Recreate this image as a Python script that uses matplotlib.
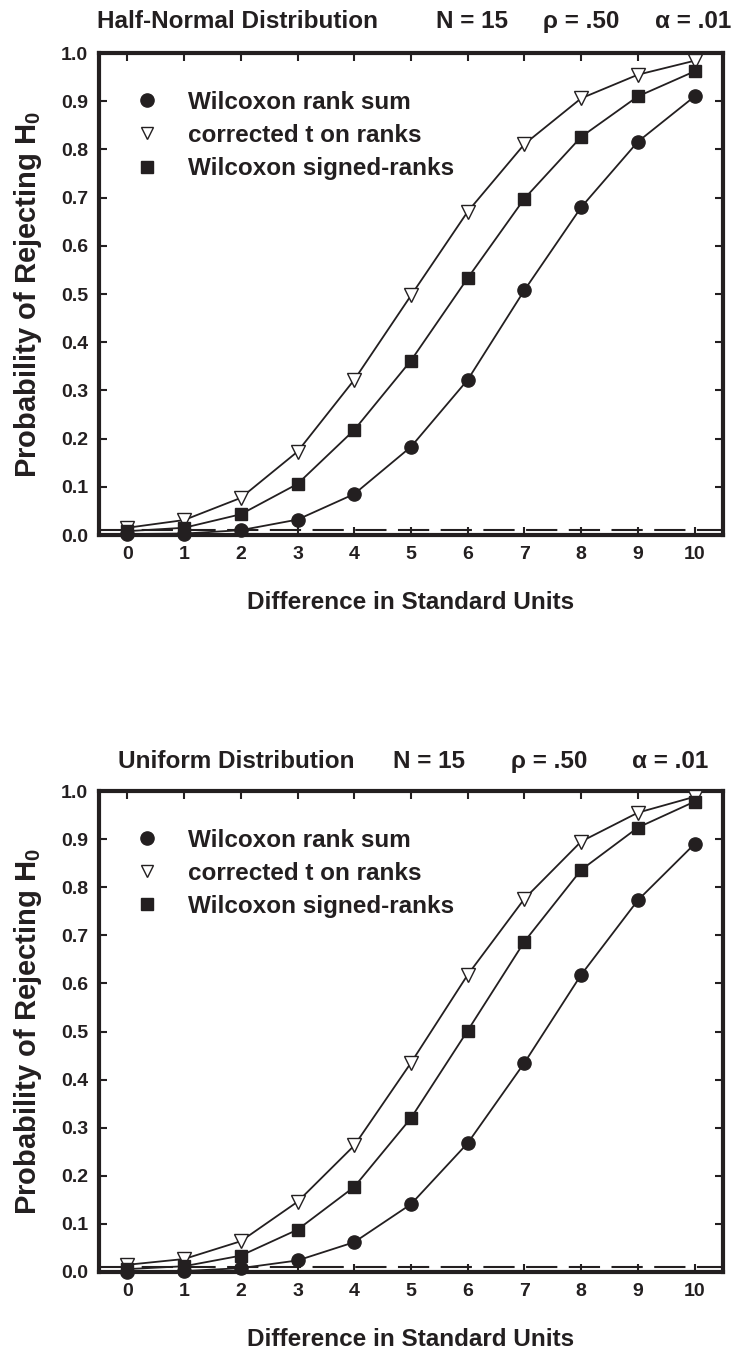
import matplotlib
matplotlib.use("Agg")
import matplotlib.pyplot as plt
from matplotlib.lines import Line2D

INK = "#231f20"

plt.rcParams.update({
    "font.family": ["Liberation Sans", "DejaVu Sans"],
    "font.weight": "bold",
    "mathtext.fontset": "custom",
    "mathtext.rm": "Liberation Sans:bold",
    "mathtext.bf": "Liberation Sans:bold",
    "text.color": INK,
})

# diferença em unidades-padrão
diff = list(range(11))

# Half-Normal
hn_rank_sum = [0.002, 0.003, 0.010, 0.032, 0.085, 0.183, 0.322, 0.508, 0.680, 0.816, 0.910]
hn_t_ranks = [0.015, 0.031, 0.077, 0.173, 0.322, 0.497, 0.671, 0.811, 0.906, 0.955, 0.984]
hn_signed = [0.008, 0.015, 0.043, 0.106, 0.218, 0.362, 0.533, 0.698, 0.826, 0.910, 0.962]

# Uniform
un_rank_sum = [0.001, 0.002, 0.008, 0.024, 0.062, 0.141, 0.268, 0.435, 0.618, 0.773, 0.890]
un_t_ranks = [0.015, 0.027, 0.064, 0.146, 0.263, 0.435, 0.618, 0.776, 0.895, 0.955, 0.988]
un_signed = [0.006, 0.012, 0.034, 0.088, 0.177, 0.320, 0.502, 0.687, 0.836, 0.924, 0.978]

alpha = 0.01
x_ticks = list(range(11))
y_ticks = [i / 10 for i in range(11)]

W, H = 734, 1353
fig = plt.figure(figsize=(W / 100, H / 100), dpi=100)
fig.patch.set_facecolor("white")

ax1 = fig.add_axes([99 / W, 1 - 535 / H, 624 / W, 482 / H])
ax2 = fig.add_axes([99 / W, 1 - 1272 / H, 624 / W, 481 / H])


def painel(ax, rank_sum, t_ranks, signed):
    ax.axhline(alpha, color=INK, lw=1.5, dashes=(15, 5.5), zorder=2)
    ax.plot(diff, t_ranks, color=INK, lw=1.3, marker="v", ms=9.5, mfc="white",
            mec=INK, mew=1.0, clip_on=False, zorder=4)
    ax.plot(diff, signed, color=INK, lw=1.3, marker="s", ms=8.5, mfc=INK,
            mec=INK, clip_on=False, zorder=5)
    ax.plot(diff, rank_sum, color=INK, lw=1.3, marker="o", ms=9.5, mfc=INK,
            mec=INK, clip_on=False, zorder=6)

    ax.set_xlim(-0.5, 10.5)
    ax.set_ylim(0, 1.0)
    ax.set_xticks(x_ticks)
    ax.set_yticks(y_ticks)
    ax.set_yticklabels([f"{v:.1f}" for v in y_ticks])
    ax.tick_params(direction="in", length=6, width=1.5, color=INK, labelsize=14,
                   top=True, right=True, labelcolor=INK)
    ax.tick_params(axis="x", pad=8)
    ax.tick_params(axis="y", pad=8)
    for s in ax.spines.values():
        s.set_linewidth(3)
        s.set_color(INK)

    handles = [
        Line2D([], [], ls="none", marker="o", ms=9.5, mfc=INK, mec=INK),
        Line2D([], [], ls="none", marker="v", ms=8.5, mfc="white", mec=INK, mew=1.0),
        Line2D([], [], ls="none", marker="s", ms=8, mfc=INK, mec=INK),
    ]
    labels = ["Wilcoxon rank sum", "corrected t on ranks", "Wilcoxon signed-ranks"]
    ax.legend(handles, labels, loc="upper left", bbox_to_anchor=(0.057, 0.922),
              frameon=False, borderpad=0, borderaxespad=0, handlelength=1.0,
              handletextpad=1.2, labelspacing=0.42,
              prop={"family": "Liberation Sans", "weight": "bold", "size": 17.5})


painel(ax1, hn_rank_sum, hn_t_ranks, hn_signed)
painel(ax2, un_rank_sum, un_t_ranks, un_signed)

# títulos em partes, como no original
titulo_kw = dict(fontsize=17.5, fontweight="bold", va="baseline", ha="left")
for txt, x in [("Half-Normal Distribution", 97), ("N = 15", 436),
               ("ρ = .50", 543), ("α = .01", 655)]:
    fig.text(x / W, 1 - 28 / H, txt, **titulo_kw)
for txt, x in [("Uniform Distribution", 118), ("N = 15", 393),
               ("ρ = .50", 511), ("α = .01", 632)]:
    fig.text(x / W, 1 - 768 / H, txt, **titulo_kw)

for ax, y_base in [(ax1, 609), (ax2, 1346)]:
    fig.text(411 / W, 1 - y_base / H, "Difference in Standard Units",
             fontsize=17.5, fontweight="bold", ha="center", va="baseline")
    pos = ax.get_position()
    fig.text(28 / W, (pos.y0 + pos.y1) / 2, r"Probability of Rejecting H$_\mathbf{0}$",
             fontsize=21, fontweight="bold", ha="center", va="center", rotation=90)

fig.savefig("out.png", dpi=100, facecolor="white")
